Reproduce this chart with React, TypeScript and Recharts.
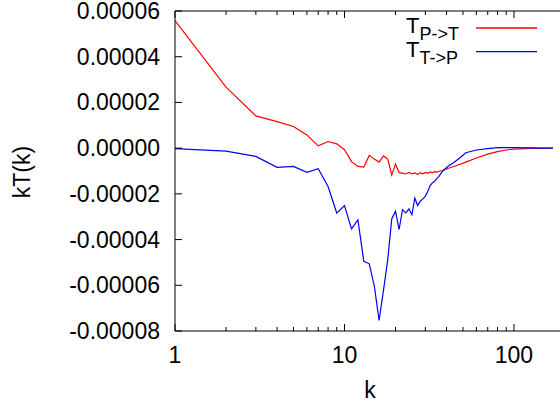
import { LineChart, Line, XAxis, YAxis, ReferenceLine, Legend, Label } from 'recharts';

// values are in units of 1e-5
const SCALE = 1e-5;

const kPT = [1, 2, 3, 4, 5, 6, 7, 8, 9, 10, 11, 12, 13, 14, 15, 16, 17, 18, 19, 20, 21, 22, 23, 24, 25, 26, 27, 28, 29, 30, 31, 32, 33, 34, 35, 36, 38, 41, 46, 52, 60, 70, 80, 90, 100, 125, 150, 170];
const tPT = [5.58, 2.67, 1.41, 1.16, 0.95, 0.58, 0.10, 0.29, 0.19, -0.07, -0.59, -0.80, -0.83, -0.32, -0.48, -0.61, -0.34, -0.48, -1.17, -0.70, -1.07, -1.09, -1.13, -1.06, -1.12, -1.08, -1.15, -1.07, -1.12, -1.06, -1.10, -1.04, -1.08, -1.03, -1.05, -1.01, -0.98, -0.88, -0.76, -0.61, -0.43, -0.26, -0.15, -0.08, -0.04, -0.01, 0, 0];

const kTP = [1, 2, 3, 4, 5, 6, 7, 8, 9, 10, 11, 12, 13, 14, 15, 16, 17, 18, 19, 20, 21, 22, 23, 24, 25, 26, 27, 28, 29, 30, 31, 32, 33, 34, 35, 36, 38, 41, 44, 48, 52, 60, 70, 80, 100, 125, 150, 170];
const tTP = [-0.02, -0.13, -0.36, -0.84, -0.80, -1.06, -0.90, -1.68, -2.84, -2.51, -3.53, -3.14, -4.95, -5.06, -6.04, -7.54, -6.20, -4.88, -3.10, -2.76, -3.56, -2.69, -2.83, -2.66, -2.91, -2.18, -2.51, -2.32, -2.22, -2.10, -1.90, -1.64, -1.52, -1.45, -1.33, -1.25, -1.00, -0.78, -0.64, -0.42, -0.20, -0.08, -0.02, 0.02, 0.02, 0.01, 0, 0];

const yTicks = [-8, -6, -4, -2, 0, 2, 4, 6];
const xMajor = [1, 10, 100];
const xTicks = [1, 2, 3, 4, 5, 6, 7, 8, 9, 10, 20, 30, 40, 50, 60, 70, 80, 90, 100, 200];

const series = [
  { key: 'pt', sub: 'P->T', color: '#ff0000', k: kPT, t: tPT },
  { key: 'tp', sub: 'T->P', color: '#0000ff', k: kTP, t: tTP },
];

const W = 580;
const H = 405;
const TOP = 11;
const X_AXIS_H = 74;
const Y_AXIS_W = 175;
const BOTTOM = H - X_AXIS_H;
const FONT = 'Liberation Sans, Arial, sans-serif';

const XTick = ({ x, payload }: any) => {
  const major = xMajor.includes(payload.value);
  const len = major ? 7 : 4;
  return (
    <g>
      <line x1={x} x2={x} y1={BOTTOM} y2={BOTTOM - len} stroke="#000" />
      <line x1={x} x2={x} y1={TOP} y2={TOP + len} stroke="#000" />
      {major && (
        <text x={x} y={363} textAnchor="middle" fontSize={23} fontFamily={FONT} fill="#000">
          {payload.value}
        </text>
      )}
    </g>
  );
};

const YTick = ({ y, payload }: any) => (
  <g>
    <line x1={Y_AXIS_W} x2={Y_AXIS_W + 7} y1={y} y2={y} stroke="#000" />
    <text x={160} y={y + 8} textAnchor="end" fontSize={23} fontFamily={FONT} fill="#000">
      {(payload.value as number).toFixed(5)}
    </text>
  </g>
);

const renderLegend = () => (
  <svg width={560} height={70}>
    {series.map((s, i) => (
      <g key={s.key}>
        <text x={406} y={33 + i * 23.5} fontSize={22} fontFamily={FONT} fill="#000">
          T
          <tspan dy={7} fontSize={18}>{s.sub}</tspan>
        </text>
        <line x1={476} x2={537} y1={28 + i * 23.7} y2={28 + i * 23.7} stroke={s.color} strokeWidth={1.3} />
      </g>
    ))}
  </svg>
);

export default function App() {
  return (
    <div style={{ position: 'absolute', left: 0, top: 0, width: 560, height: 405, overflow: 'hidden', background: '#fff' }}>
      <LineChart width={W} height={H} margin={{ top: TOP, right: 15, bottom: 0, left: 0 }}>
        <XAxis
          dataKey="k"
          type="number"
          scale="log"
          domain={[1, 200]}
          allowDataOverflow
          ticks={xTicks}
          interval={0}
          height={X_AXIS_H}
          tick={<XTick />}
          tickLine={false}
          axisLine={{ stroke: '#000' }}
        >
          <Label
            content={() => (
              <text x={370} y={398} textAnchor="middle" fontSize={23} fontFamily={FONT} fill="#000">k</text>
            )}
          />
        </XAxis>
        <YAxis
          type="number"
          domain={[-8 * SCALE, 6 * SCALE]}
          ticks={yTicks.map((v) => v * SCALE)}
          interval={0}
          width={Y_AXIS_W}
          tick={<YTick />}
          tickLine={false}
          axisLine={{ stroke: '#000' }}
        >
          <Label
            content={() => (
              <text x={30} y={172} transform="rotate(-90 30 172)" textAnchor="middle" fontSize={23} fontFamily={FONT} fill="#000">kT(k)</text>
            )}
          />
        </YAxis>
        <ReferenceLine y={6 * SCALE} stroke="#000" />
        <Legend
          layout="horizontal"
          verticalAlign="middle"
          align="center"
          content={renderLegend}
          wrapperStyle={{ position: 'absolute', top: 0, left: 0, width: 560, height: 70 }}
        />
        {series.map((s) => (
          <Line
            key={s.key}
            data={s.k.map((k, i) => ({ k, v: s.t[i] * SCALE }))}
            dataKey="v"
            name={s.sub}
            stroke={s.color}
            strokeWidth={1.2}
            dot={false}
            isAnimationActive={false}
          />
        ))}
      </LineChart>
    </div>
  );
}
